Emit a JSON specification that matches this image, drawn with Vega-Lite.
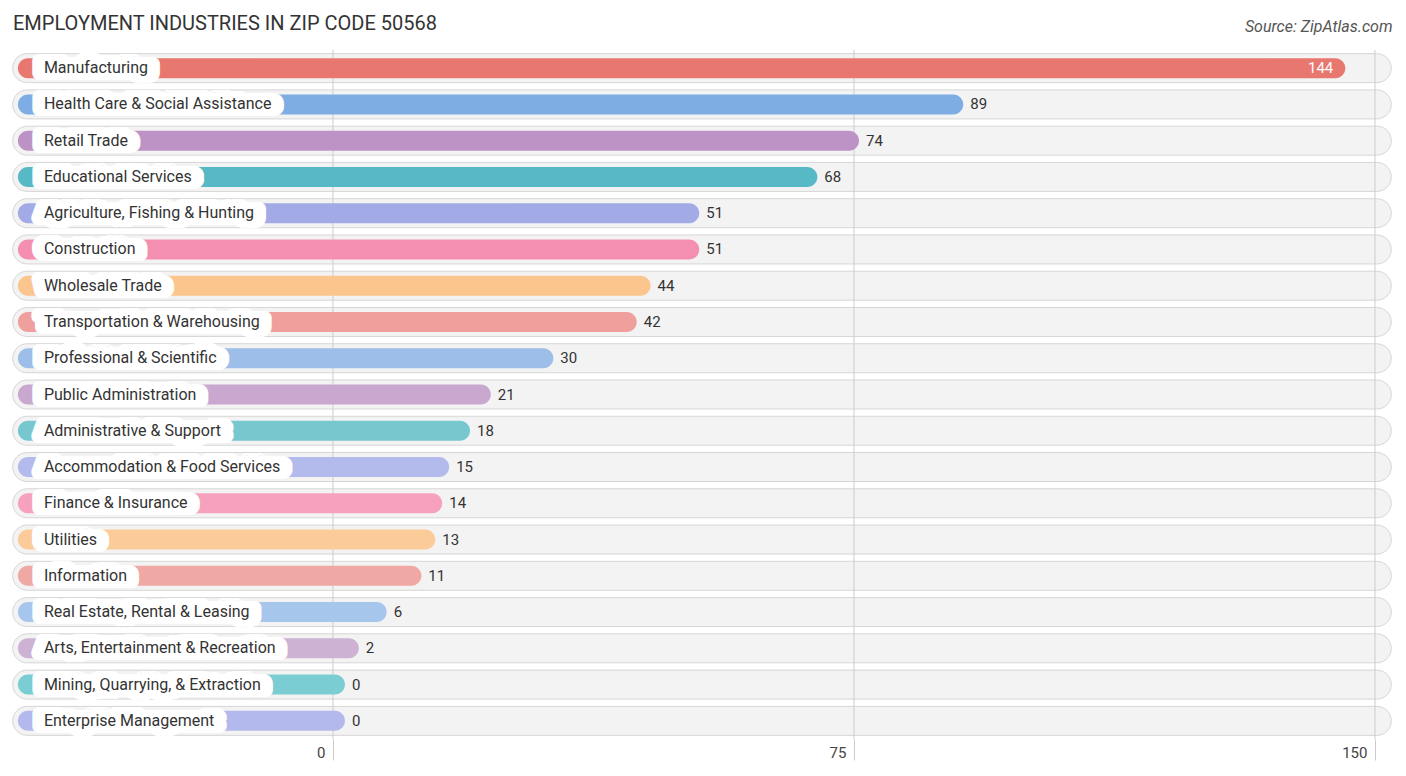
{
  "$schema": "https://vega.github.io/schema/vega-lite/v6.json",
  "width": 1380,
  "height": 689,
  "autosize": {"type": "none"},
  "padding": {"left": 12, "top": 50, "right": 14, "bottom": 37},
  "background": "#ffffff",
  "title": {
    "text": "EMPLOYMENT INDUSTRIES IN ZIP CODE 50568",
    "anchor": "start",
    "frame": "group",
    "font": "Roboto",
    "fontSize": 20,
    "fontWeight": "normal",
    "color": "#333333",
    "dx": 1,
    "dy": 20
  },
  "config": {
    "view": {"stroke": null},
    "text": {"font": "Roboto"}
  },
  "data": {
    "values": [
      {"industry": "Manufacturing", "value": 144},
      {"industry": "Health Care & Social Assistance", "value": 89},
      {"industry": "Retail Trade", "value": 74},
      {"industry": "Educational Services", "value": 68},
      {"industry": "Agriculture, Fishing & Hunting", "value": 51},
      {"industry": "Construction", "value": 51},
      {"industry": "Wholesale Trade", "value": 44},
      {"industry": "Transportation & Warehousing", "value": 42},
      {"industry": "Professional & Scientific", "value": 30},
      {"industry": "Public Administration", "value": 21},
      {"industry": "Administrative & Support", "value": 18},
      {"industry": "Accommodation & Food Services", "value": 15},
      {"industry": "Finance & Insurance", "value": 14},
      {"industry": "Utilities", "value": 13},
      {"industry": "Information", "value": 11},
      {"industry": "Real Estate, Rental & Leasing", "value": 6},
      {"industry": "Arts, Entertainment & Recreation", "value": 2},
      {"industry": "Mining, Quarrying, & Extraction", "value": 0},
      {"industry": "Enterprise Management", "value": 0}
    ]
  },
  "encoding": {
    "y": {
      "field": "industry",
      "type": "nominal",
      "sort": null,
      "axis": null,
      "scale": {"paddingInner": 0, "paddingOuter": 0}
    }
  },
  "layer": [
    {
      "mark": {"type": "bar", "size": 29, "cornerRadius": 14.5, "fill": "#f3f3f3", "stroke": "#d6d6d6", "strokeWidth": 1},
      "encoding": {
        "x": {"datum": -46.1, "type": "quantitative", "scale": {"domain": [-46.2, 152.45], "nice": false, "zero": false}, "axis": null},
        "x2": {"datum": 152.35}
      }
    },
    {
      "data": {"values": [{"tick": 0}, {"tick": 75}, {"tick": 150}]},
      "mark": {"type": "rule", "color": "#cccccc", "strokeWidth": 1},
      "encoding": {
        "y": null,
        "x": {
          "field": "tick",
          "type": "quantitative",
          "scale": {"domain": [-46.2, 152.45], "nice": false, "zero": false},
          "axis": {
            "orient": "top",
            "domain": false,
            "ticks": false,
            "labels": false,
            "grid": false,
            "title": "Source: ZipAtlas.com",
            "titleAnchor": "end",
            "titleAlign": "right",
            "titleBaseline": "alphabetic",
            "titleFont": "Roboto",
            "titleFontSize": 16,
            "titleFontStyle": "italic",
            "titleFontWeight": "normal",
            "titleColor": "#555555",
            "titlePadding": 19
          }
        }
      }
    },
    {
      "mark": {"type": "bar", "size": 20, "cornerRadius": 10, "xOffset": 12},
      "encoding": {
        "x": {
          "field": "value",
          "type": "quantitative",
          "scale": {"domain": [-46.2, 152.45], "nice": false, "zero": false},
          "axis": {
            "orient": "bottom",
            "values": [0, 75, 150],
            "domain": false,
            "grid": false,
            "ticks": true,
            "tickSize": 21,
            "tickColor": "#cccccc",
            "labelAlign": "right",
            "labelFlush": false,
            "labelOffset": -8,
            "labelPadding": -15,
            "labelFont": "Roboto",
            "labelFontSize": 15,
            "labelColor": "#444444",
            "title": null
          }
        },
        "x2": {"datum": -45.35},
        "color": {
          "field": "industry",
          "type": "nominal",
          "legend": null,
          "scale": {
            "domain": [
              "Manufacturing", "Health Care & Social Assistance", "Retail Trade", "Educational Services",
              "Agriculture, Fishing & Hunting", "Construction", "Wholesale Trade", "Transportation & Warehousing",
              "Professional & Scientific", "Public Administration", "Administrative & Support",
              "Accommodation & Food Services", "Finance & Insurance", "Utilities", "Information",
              "Real Estate, Rental & Leasing", "Arts, Entertainment & Recreation",
              "Mining, Quarrying, & Extraction", "Enterprise Management"
            ],
            "range": [
              "#e8776f", "#7eade3", "#bd93c6", "#56b9c5", "#a3abe6", "#f48fb1", "#fbc58e", "#efa09c",
              "#9dbee8", "#c9a8d0", "#76c7ce", "#b3baec", "#f6a2be", "#fbcb9a", "#f0a8a4", "#a6c6ec",
              "#cdb2d4", "#7acdd3", "#b3b9ec"
            ]
          }
        }
      }
    },
    {
      "mark": {"type": "text", "align": "left", "baseline": "middle", "fontSize": 16, "dx": 20, "fill": "#ffffff", "stroke": "#ffffff", "strokeWidth": 14, "strokeJoin": "round"},
      "encoding": {
        "x": {"datum": -45.35, "type": "quantitative", "scale": {"domain": [-46.2, 152.45], "nice": false, "zero": false}, "axis": null},
        "text": {"field": "industry"}
      }
    },
    {
      "mark": {"type": "text", "align": "left", "baseline": "middle", "fontSize": 16, "dx": 26, "fill": "#ffffff", "stroke": "#ffffff", "strokeWidth": 14, "strokeJoin": "round"},
      "encoding": {
        "x": {"datum": -45.35, "type": "quantitative", "scale": {"domain": [-46.2, 152.45], "nice": false, "zero": false}, "axis": null},
        "text": {"field": "industry"}
      }
    },
    {
      "mark": {"type": "text", "align": "left", "baseline": "middle", "fontSize": 16, "dx": 32, "fill": "#ffffff", "stroke": "#ffffff", "strokeWidth": 14, "strokeJoin": "round"},
      "encoding": {
        "x": {"datum": -45.35, "type": "quantitative", "scale": {"domain": [-46.2, 152.45], "nice": false, "zero": false}, "axis": null},
        "text": {"field": "industry"}
      }
    },
    {
      "mark": {"type": "text", "align": "left", "baseline": "middle", "fontSize": 16, "dx": 26, "color": "#333333"},
      "encoding": {
        "x": {"datum": -45.35, "type": "quantitative", "scale": {"domain": [-46.2, 152.45], "nice": false, "zero": false}, "axis": null},
        "text": {"field": "industry"}
      }
    },
    {
      "transform": [{"filter": "datum.value > 100"}],
      "mark": {"type": "text", "align": "right", "baseline": "middle", "fontSize": 15, "dx": 0, "color": "#ffffff"},
      "encoding": {
        "x": {"field": "value", "type": "quantitative", "scale": {"domain": [-46.2, 152.45], "nice": false, "zero": false}, "axis": null},
        "text": {"field": "value"}
      }
    },
    {
      "transform": [{"filter": "datum.value <= 100"}],
      "mark": {"type": "text", "align": "left", "baseline": "middle", "fontSize": 15, "dx": 19, "color": "#333333"},
      "encoding": {
        "x": {"field": "value", "type": "quantitative", "scale": {"domain": [-46.2, 152.45], "nice": false, "zero": false}, "axis": null},
        "text": {"field": "value"}
      }
    }
  ],
  "resolve": {"axis": {"x": "independent"}}
}
